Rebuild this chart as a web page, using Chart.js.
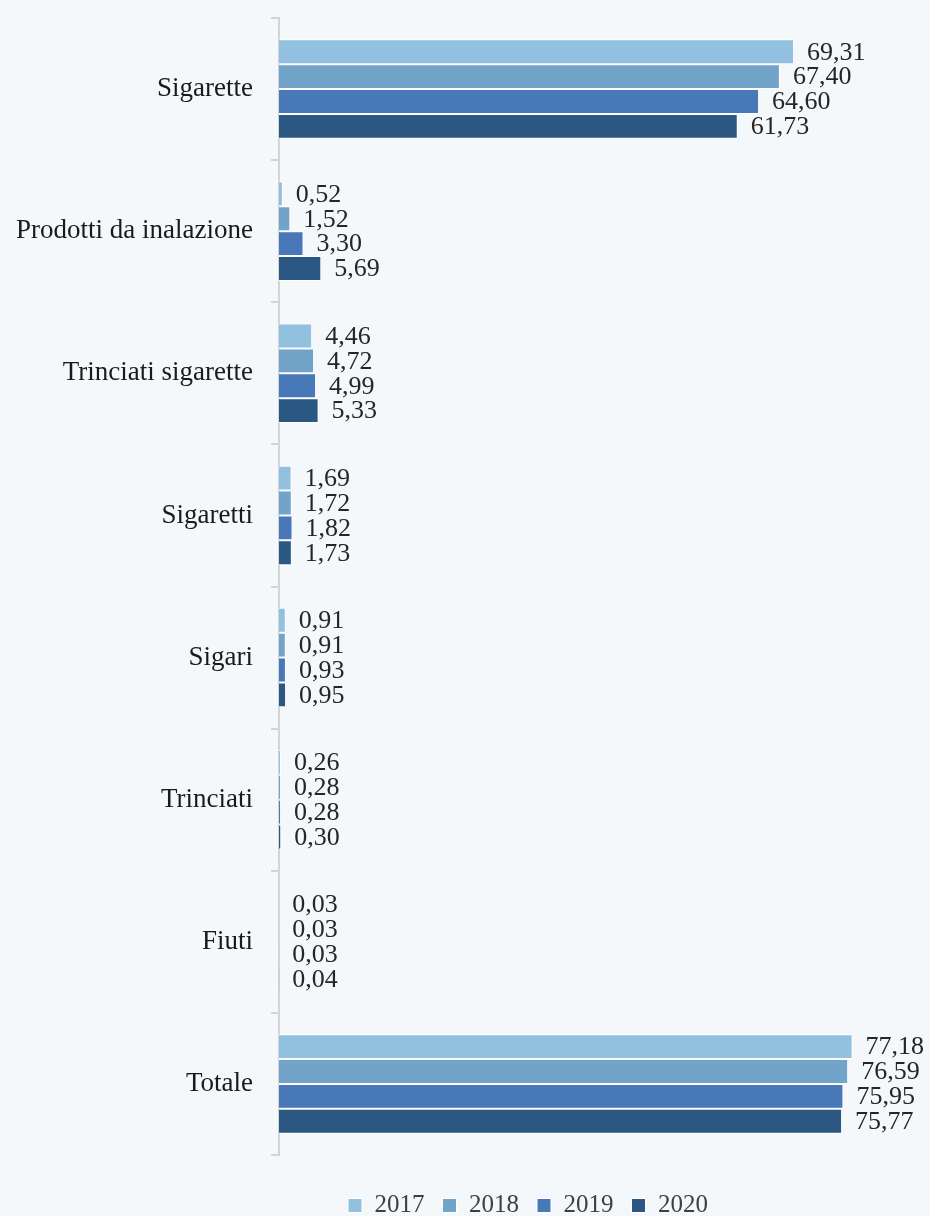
<!DOCTYPE html>
<html>
<head>
<meta charset="utf-8">
<script src="https://cdn.jsdelivr.net/npm/chart.js@4/dist/chart.umd.min.js"></script>
<style>
html,body{margin:0;padding:0;background:#f5f8fb;}
#wrap{position:relative;width:930px;height:1216px;}
</style>
</head>
<body>
<div id="wrap"><canvas id="c" width="930" height="1216"></canvas></div>
<script>
const categories = ["Sigarette","Prodotti da inalazione","Trinciati sigarette","Sigaretti","Sigari","Trinciati","Fiuti","Totale"];
const years = ["2017","2018","2019","2020"];
const v2017 = [69.31,0.52,4.46,1.69,0.91,0.26,0.03,77.18];
const v2018 = [67.40,1.52,4.72,1.72,0.91,0.28,0.03,76.59];
const v2019 = [64.60,3.30,4.99,1.82,0.93,0.28,0.03,75.95];
const v2020 = [61.73,5.69,5.33,1.73,0.95,0.30,0.04,75.77];
const colors = ["#92c0df","#72a4ca","#4878b8","#2b5882"];

const FONT = "'Liberation Serif', 'Times New Roman', serif";

const labelPlugin = {
  id: 'valLabels',
  afterDatasetsDraw(chart) {
    const ctx = chart.ctx;
    ctx.save();
    ctx.font = "26px " + FONT;
    ctx.fillStyle = "#262626";
    ctx.textAlign = "left";
    ctx.textBaseline = "middle";
    chart.data.datasets.forEach((ds, i) => {
      const meta = chart.getDatasetMeta(i);
      meta.data.forEach((el, j) => {
        const t = ds.data[j].toFixed(2).replace('.', ',');
        ctx.fillText(t, el.x + 13, el.y + 1);
      });
    });
    ctx.restore();
  }
};

const bgPlugin = {
  id: 'bg',
  beforeDraw(chart) {
    const ctx = chart.ctx;
    ctx.save();
    ctx.fillStyle = "#f5f8fb";
    ctx.fillRect(0, 0, chart.width, chart.height);
    ctx.restore();
  }
};

const legendShift = {
  id: 'legendShift',
  afterLayout(chart) {
    const L = chart.legend;
    if (L) { L.left += 63; L.right += 63; }
  }
};

const data = [v2017, v2018, v2019, v2020];
new Chart(document.getElementById('c'), {
  type: 'bar',
  data: {
    labels: categories,
    datasets: years.map((y, i) => ({
      label: y,
      data: data[i],
      backgroundColor: colors[i],
      borderColor: "#ffffff",
      borderWidth: 1,
      categoryPercentage: 0.7,
      barPercentage: 1.0
    }))
  },
  options: {
    indexAxis: 'y',
    responsive: false,
    animation: false,
    layout: { padding: { left: 0, right: 0, top: 18, bottom: -12 } },
    scales: {
      x: {
        display: true,
        min: 0,
        max: 87.6,
        grid: { display: false },
        border: { display: false },
        ticks: { display: false },
        afterFit(scale) { scale.height = 20; scale.paddingLeft = 0; scale.paddingRight = 0; }
      },
      y: {
        afterFit(scale) { scale.width = 279; scale.paddingTop = 0; scale.paddingBottom = 0; },
        grid: {
          drawOnChartArea: false,
          offset: true,
          color: "#d4d4d4",
          lineWidth: 2,
          tickLength: 8
        },
        border: { display: true, color: "#d4d4d4", width: 2 },
        ticks: {
          color: "#1a1a1a",
          padding: 18,
          font: { family: FONT, size: 27 }
        }
      }
    },
    plugins: {
      legend: {
        position: 'bottom',
        labels: {
          boxWidth: 14,
          boxHeight: 14,
          padding: 18,
          color: "#404040",
          font: { family: FONT, size: 25 }
        }
      },
      tooltip: { enabled: false }
    }
  },
  plugins: [bgPlugin, labelPlugin, legendShift]
});
</script>
</body>
</html>
